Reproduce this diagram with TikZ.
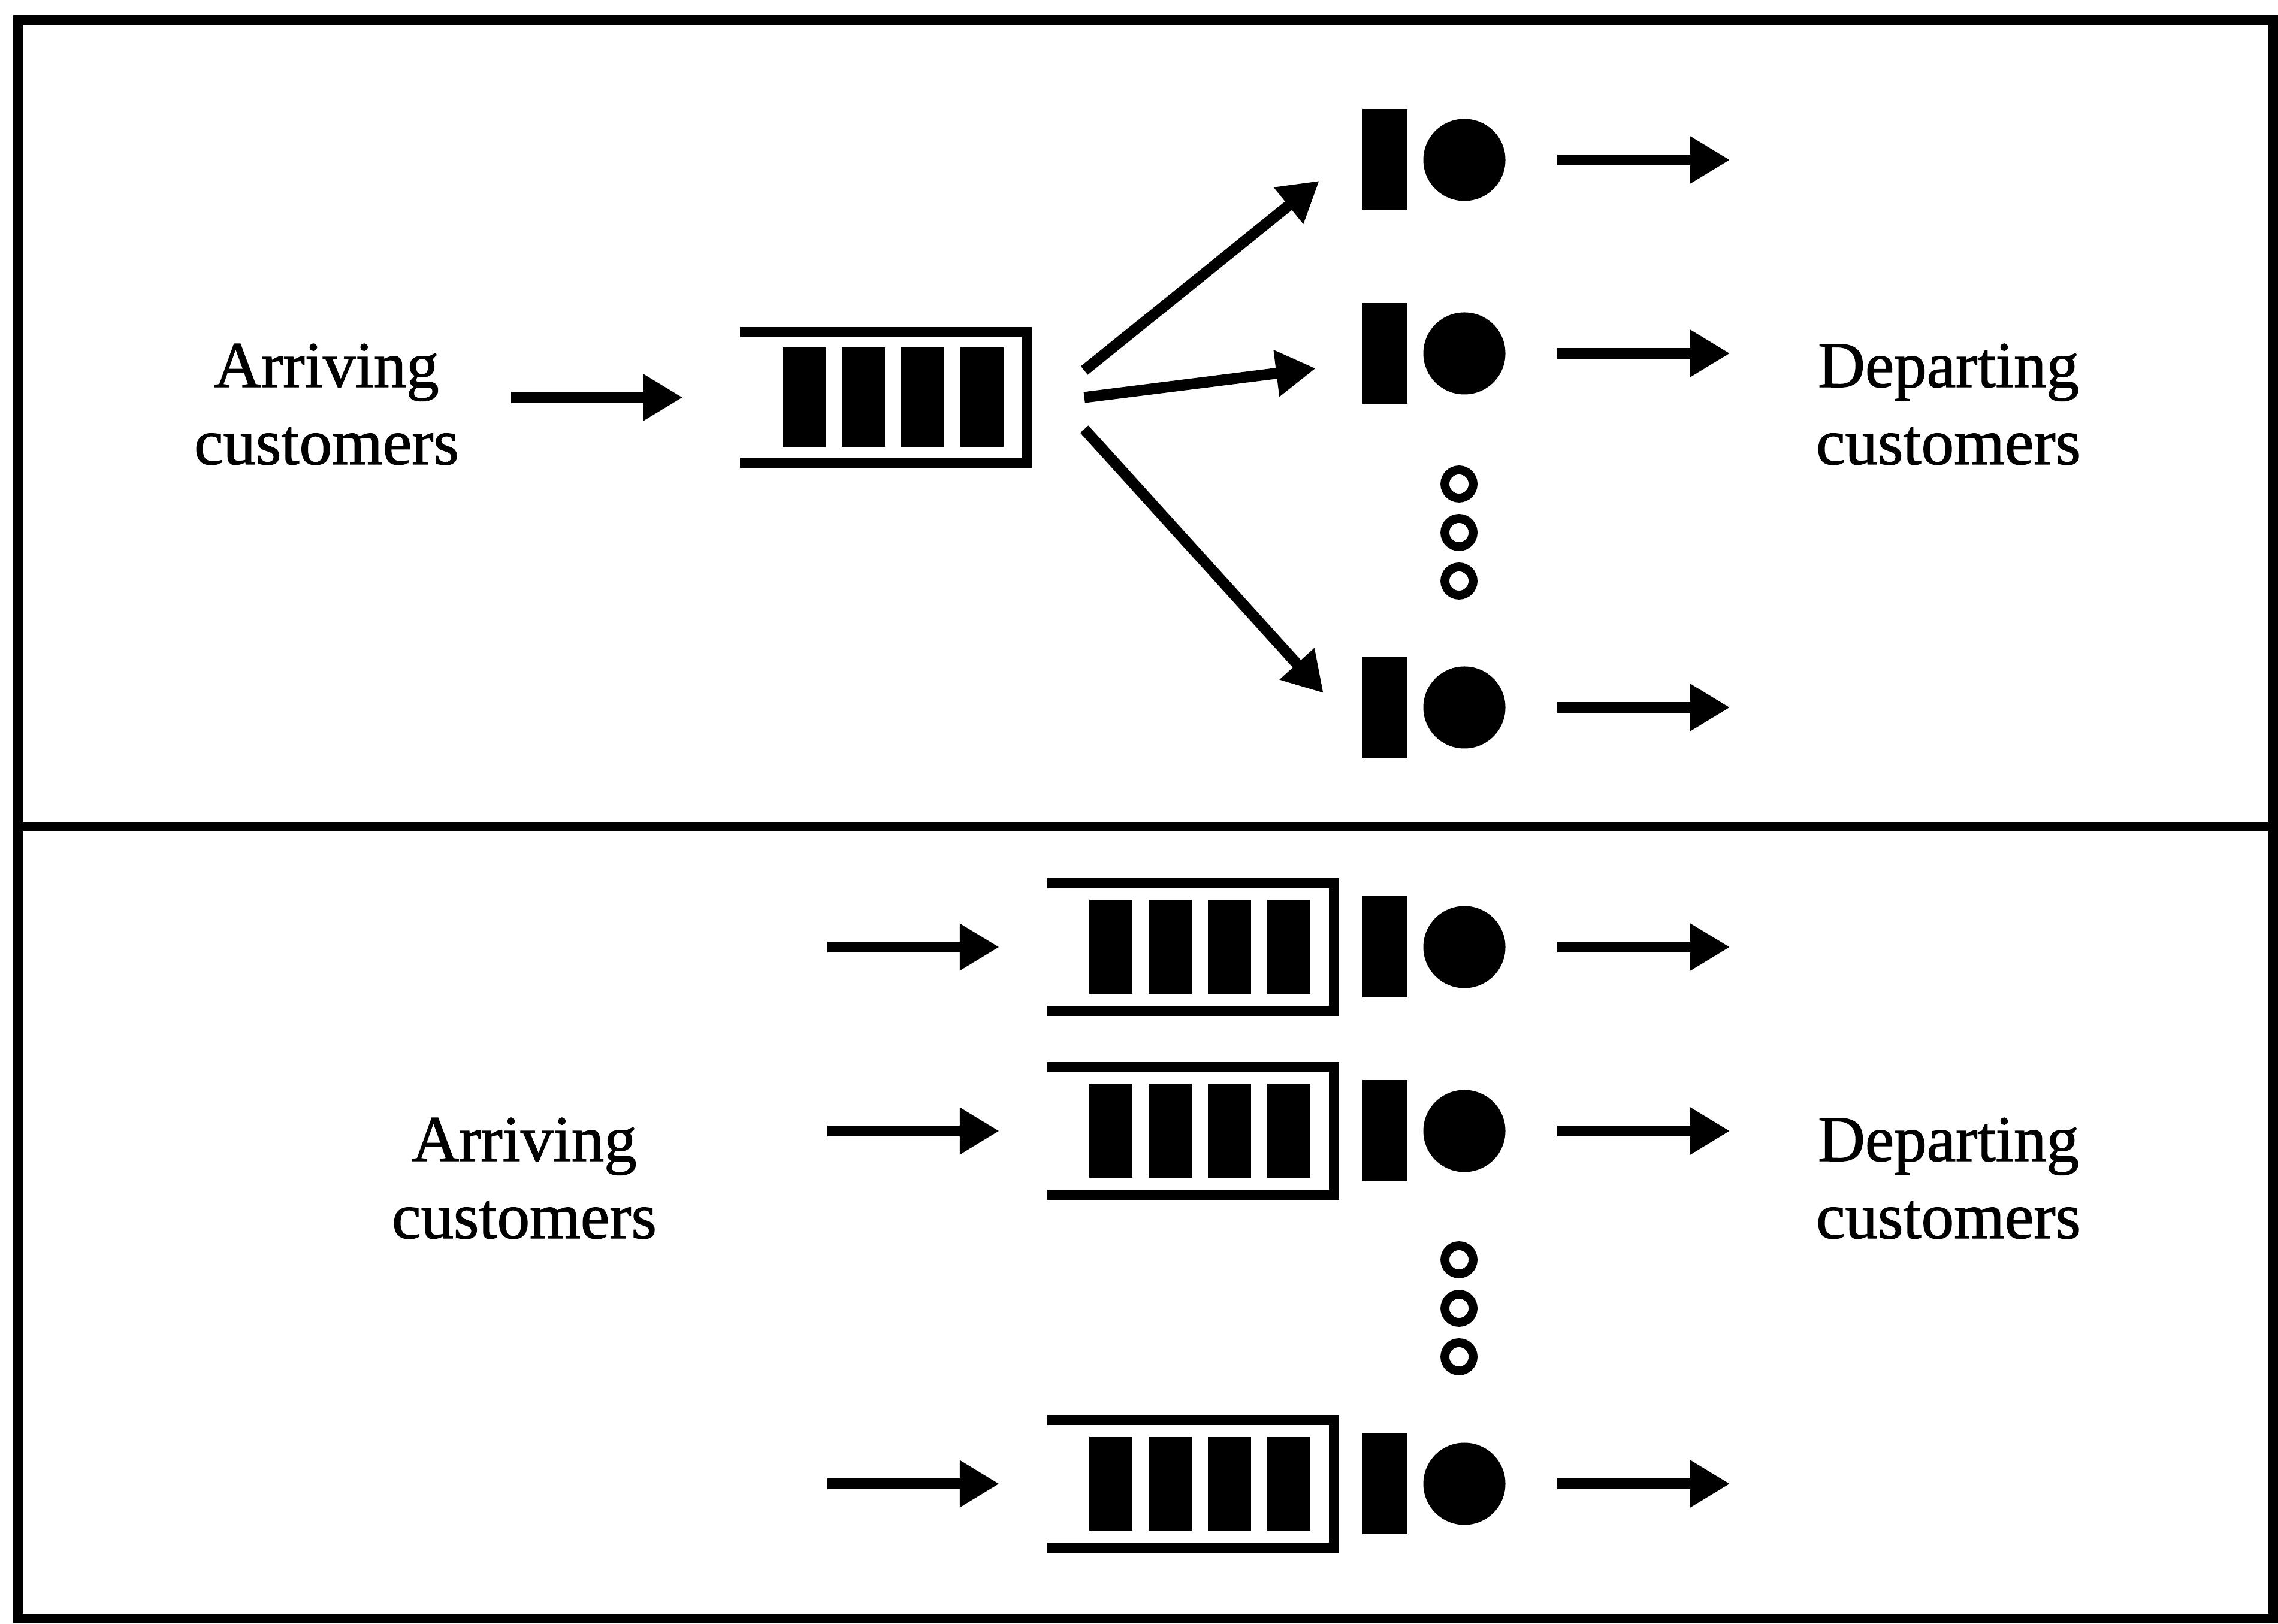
\documentclass[tikz,border=0pt]{standalone}
\usepackage{fontspec}
\setmainfont{Liberation Serif}
\newfontfamily\capfont{Liberation Serif}[FakeBold=1.2]
\usetikzlibrary{arrows.meta,calc}

\tikzset{
  panel/.style={line width=4.8pt},
  flow/.style={line width=5.2pt, -{Triangle[length=0.66cm,width=0.74cm]}},
  caption/.style={align=center, font=\capfont\fontsize{31}{36.7}\selectfont},
  buffer/.style={inner sep=0pt, minimum width=4.77cm, minimum height=#1},
  slot/.style={fill=black, inner sep=0pt, minimum width=0.72cm, minimum height=#1},
  desk/.style={fill=black, inner sep=0pt, minimum width=0.75cm, minimum height=1.69cm},
  unit/.style={circle, fill=black, inner sep=0pt, minimum size=1.37cm},
  more/.style={circle, draw, line width=4.2pt, inner sep=0pt, minimum size=0.47cm}
}

\begin{document}
\begin{tikzpicture}
    \useasboundingbox (0,0) rectangle (38.02,27.11);
    \draw[panel] (0.30,0.09) rectangle (37.94,26.78);
    \draw[panel] (0.30,13.31) -- (37.94,13.31);

    % one common queue, several servers
    \node[caption] (arr1) at (5.45,20.36) {Arriving\\customers};
    \node[caption] (dep1) at (32.52,20.36) {Departing\\customers};
    \node[buffer=2.17cm] (q1) at (14.745,20.475) {};
    \draw[panel] (q1.north west) -- (q1.north east) -- (q1.south east) -- (q1.south west);
    \foreach \i in {0,...,3}
        \node[slot=1.66cm] (b1\i) at ($(q1.east)+(-0.75-0.99*\i,0)$) {};
    \coordinate (in1) at (8.53,20.475);
    \draw[flow] (in1) -- ([xshift=-0.96cm]q1.west);
    \foreach \r/\y in {1/24.44, 2/21.21, 3/15.30} {
        \node[desk] (d\r) at (23.11,\y) {};
        \node[unit] (s\r) at (24.44,\y) {};
        \draw[flow] ([xshift=0.86cm]s\r.east) -- ([xshift=3.74cm]s\r.east);
    }
    \foreach \r/\sy/\tx/\ty in {1/0.45/-0.71/-0.35, 2/0/-0.77/-0.25, 3/-0.53/-0.64/0.24}
        \draw[flow] ([shift={(0.96,\sy)}]q1.east) -- ([shift={(\tx,\ty)}]d\r.west);
    \foreach \k in {1,2,3}
        \node[more] (m1\k) at (24.35,19.84-0.81*\k) {};

    % one queue for each server
    \node[caption] (arr2) at (8.75,7.44) {Arriving\\customers};
    \node[caption] (dep2) at (32.52,7.44) {Departing\\customers};
    \foreach \r/\y in {4/11.30, 5/8.23, 6/2.34} {
        \node[buffer=2.11cm] (q\r) at (19.87,\y) {};
        \draw[panel] (q\r.north west) -- (q\r.north east) -- (q\r.south east) -- (q\r.south west);
        \foreach \i in {0,...,3}
            \node[slot=1.57cm] (b\r\i) at ($(q\r.east)+(-0.75-0.99*\i,0)$) {};
        \node[desk] (d\r) at (23.11,\y) {};
        \node[unit] (s\r) at (24.44,\y) {};
        \coordinate (in\r) at (13.81,\y);
        \draw[flow] (in\r) -- ([xshift=-0.80cm]q\r.west);
        \draw[flow] ([xshift=0.86cm]s\r.east) -- ([xshift=3.74cm]s\r.east);
    }
    \foreach \k in {1,2,3}
        \node[more] (m2\k) at (24.35,6.89-0.81*\k) {};
\end{tikzpicture}
\end{document}
